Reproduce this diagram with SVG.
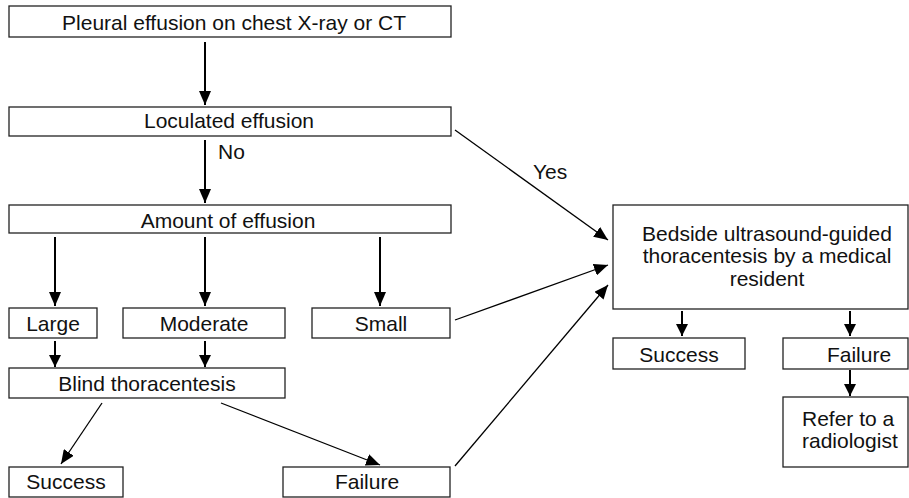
<svg xmlns="http://www.w3.org/2000/svg" width="909" height="498" viewBox="0 0 909 498">
<style>
.box{fill:#fff;stroke:#222;stroke-width:1.3}
.t{font-family:"Liberation Sans",Arial,sans-serif;font-size:21px;fill:#111}
.c{text-anchor:middle}
.ln{stroke:#000;stroke-width:2;fill:none}
.dg{stroke:#000;stroke-width:1.3;fill:none}
</style>
<defs>
<marker id="ah" markerUnits="userSpaceOnUse" viewBox="0 0 14 12" refX="14" refY="6" markerWidth="14" markerHeight="12" orient="auto">
<path d="M0,0 L14,6 L0,12 z" fill="#000"/>
</marker>
<marker id="ahs" markerUnits="userSpaceOnUse" viewBox="0 0 12 12" refX="12" refY="6" markerWidth="12" markerHeight="12" orient="auto">
<path d="M0,0 L12,6 L0,12 z" fill="#000"/>
</marker>
</defs>
<rect width="909" height="498" fill="#fff"/>
<g id="connectors">
<line class="ln" x1="205" y1="42" x2="205" y2="105" marker-end="url(#ah)"/>
<line class="ln" x1="205" y1="140" x2="205" y2="203" marker-end="url(#ah)"/>
<line class="ln" x1="55" y1="237" x2="55" y2="306" marker-end="url(#ah)"/>
<line class="ln" x1="205" y1="237" x2="205" y2="306" marker-end="url(#ah)"/>
<line class="ln" x1="380" y1="237" x2="380" y2="306" marker-end="url(#ah)"/>
<line class="ln" x1="55" y1="341" x2="55" y2="367" marker-end="url(#ahs)"/>
<line class="ln" x1="205" y1="341" x2="205" y2="367" marker-end="url(#ahs)"/>
<line class="dg" x1="102" y1="403" x2="61" y2="464" marker-end="url(#ah)"/>
<line class="dg" x1="221" y1="403" x2="380" y2="465" marker-end="url(#ah)"/>
<line class="dg" x1="455" y1="130" x2="608" y2="240" marker-end="url(#ah)"/>
<line class="dg" x1="455" y1="320" x2="608" y2="265" marker-end="url(#ah)"/>
<line class="dg" x1="455" y1="466" x2="608" y2="285" marker-end="url(#ah)"/>
<line class="ln" x1="682" y1="311" x2="682" y2="336" marker-end="url(#ahs)"/>
<line class="ln" x1="850" y1="311" x2="850" y2="336" marker-end="url(#ahs)"/>
<line class="ln" x1="850" y1="370" x2="850" y2="396" marker-end="url(#ahs)"/>
<text class="t" x="218" y="159">No</text>
<text class="t" x="533" y="179">Yes</text>
</g>
<g id="n-pleural"><rect class="box" x="9" y="6" width="442" height="31"/><text class="t c" x="234" y="30">Pleural effusion on chest X-ray or CT</text></g>
<g id="n-loculated"><rect class="box" x="9" y="107" width="442" height="29"/><text class="t c" x="229" y="128">Loculated effusion</text></g>
<g id="n-amount"><rect class="box" x="9" y="205" width="442" height="28"/><text class="t c" x="228" y="228">Amount of effusion</text></g>
<g id="n-large"><rect class="box" x="9" y="308" width="88" height="30"/><text class="t c" x="53" y="331">Large</text></g>
<g id="n-moderate"><rect class="box" x="123" y="308" width="162" height="30"/><text class="t c" x="204" y="331">Moderate</text></g>
<g id="n-small"><rect class="box" x="312" y="308" width="138" height="30"/><text class="t c" x="381" y="331">Small</text></g>
<g id="n-blind"><rect class="box" x="9" y="368" width="276" height="30"/><text class="t c" x="147" y="391">Blind thoracentesis</text></g>
<g id="n-success1"><rect class="box" x="9" y="467" width="114" height="30"/><text class="t c" x="66" y="489">Success</text></g>
<g id="n-failure1"><rect class="box" x="283" y="467" width="167" height="30"/><text class="t c" x="367" y="489">Failure</text></g>
<g id="n-bedside"><rect class="box" x="613" y="205" width="295" height="104"/>
<text class="t c" x="767" y="241">Bedside ultrasound-guided</text>
<text class="t c" x="767" y="263">thoracentesis by a medical</text>
<text class="t c" x="767" y="286">resident</text></g>
<g id="n-success2"><rect class="box" x="613" y="338" width="132" height="31"/><text class="t c" x="679" y="362">Success</text></g>
<g id="n-failure2"><rect class="box" x="783" y="338" width="125" height="31"/><text class="t c" x="859" y="362">Failure</text></g>
<g id="n-refer"><rect class="box" x="783" y="397" width="125" height="70"/>
<text class="t" x="802" y="426">Refer to a</text>
<text class="t" x="802" y="448">radiologist</text></g>
</svg>
